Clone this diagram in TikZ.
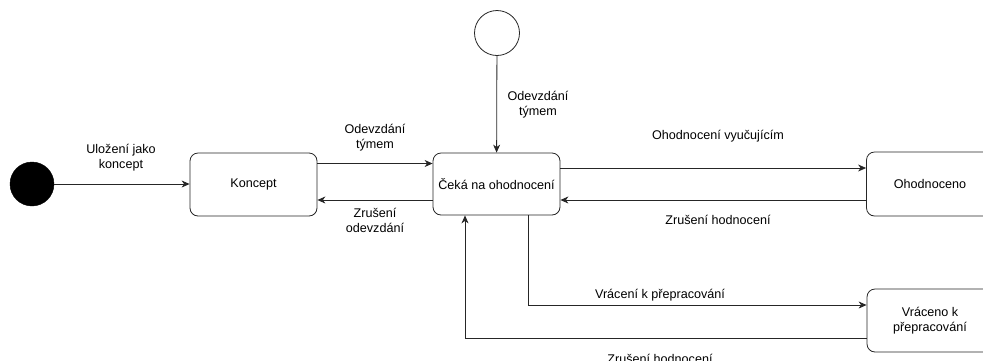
\documentclass[tikz,border=0pt]{standalone}
\usepackage{fontspec}
\setmainfont{Liberation Sans}
\usetikzlibrary{arrows.meta,calc}
\begin{document}
\begin{tikzpicture}[x=1pt,y=-1pt,
  every node/.style={font=\fontsize{12.6}{15}\selectfont},
  state/.style={draw=black!85, line width=0.8pt, rounded corners=8pt, fill=white, minimum width=127pt, minimum height=63pt, inner sep=2pt, align=center},
  lbl/.style={align=center, inner sep=0pt},
  arr/.style={draw=black!85, line width=0.8pt, -{Stealth[length=8pt,width=7pt,inset=2.5pt]}},
  ln/.style={draw=black!85, line width=0.8pt}]
\useasboundingbox (0,0) rectangle (983,360);
\clip (0,0) rectangle (983,360);
% states
\node[circle, fill=black, draw=black, minimum size=44pt, inner sep=0pt] (start) at (32,184) {};
\node[circle, fill=white, draw=black!85, line width=0.8pt, minimum size=45pt, inner sep=0pt] (top) at (497,33) {};
\node[state] (koncept) at (253.5,184.5) {Koncept};
\node[state, minimum height=62pt] (ceka) at (496.5,184) {Čeká na ohodnocení};
\node[state, minimum height=64pt] (ohod) at (930,184) {Ohodnoceno};
\node[state, minimum width=126pt] (vrac) at (930,320.5) {Vráceno k\\přepracování};
% connectors
\draw[arr] (start) -- (start -| koncept.west);
\draw[arr] (top) -- (ceka);
\draw[arr] ([yshift=21pt]koncept.east) -- ([yshift=21pt]koncept.east -| ceka.west);
\draw[arr] ([yshift=-16pt]ceka.west) -- ([yshift=-16pt]ceka.west -| koncept.east);
\draw[arr] ([yshift=16pt]ceka.east) -- ([yshift=16pt]ceka.east -| ohod.west);
\draw[arr] ([yshift=-16pt]ohod.west) -- ([yshift=-16pt]ohod.west -| ceka.east);
\draw[arr] ([xshift=31.5pt]ceka.south) |- ([yshift=15.5pt]vrac.west);
\draw[arr] ([yshift=-17.5pt]vrac.west) -| ([xshift=-31.5pt]ceka.south);
% labels
\node[lbl] (l1) at (121,158) {Uložení jako\\koncept};
\node[lbl] (l2) at (375,138) {Odevzdání\\týmem};
\node[lbl] (l3) at (375,220) {Zrušení\\odevzdání};
\node[lbl] (l4) at (538,105) {Odevzdání\\týmem};
\node[lbl] (l5) at (718,136) {Ohodnocení vyučujícím};
\node[lbl] (l6) at (718,220) {Zrušení hodnocení};
\node[lbl] (l7) at (660,295) {Vrácení k přepracování};
\node[lbl] (l8) at (660,359) {Zrušení hodnocení};
\end{tikzpicture}
\end{document}
